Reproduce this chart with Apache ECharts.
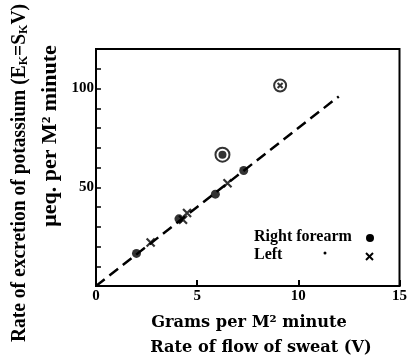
<!DOCTYPE html>
<html><head><meta charset="utf-8">
<script src="https://cdn.jsdelivr.net/npm/echarts@6/dist/echarts.min.js"></script>
<style>html,body{margin:0;padding:0;background:#fff}#c{width:410px;height:360px}</style>
</head><body><div id="c"></div>
<script>
// Data
const rightX = [2.0, 4.1, 5.9, 7.3];
const rightY = [16.5, 34, 46.5, 58.5];
const leftX = [2.7, 4.3, 4.5, 6.5];
const leftY = [22, 33.5, 37, 52];
const rightOutlierX = [6.25];
const rightOutlierY = [66.5];
const leftOutlierX = [9.1];
const leftOutlierY = [101.5];
const fitX = [0, 12];
const fitY = [0, 96];
const xTicks = [0, 5, 10, 15];
const yTickLabels = [50, 100];

const FONT = '"Liberation Serif", "DejaVu Serif", serif';
const WIDE = '"DejaVu Serif", serif';
const crossPath = 'path://M0,0L10,10M10,0L0,10';
const zip = (a, b) => a.map((v, i) => [v, b[i]]);

const chart = echarts.init(document.getElementById('c'));
chart.setOption({
  animation: false,
  backgroundColor: '#fff',
  grid: {left: 96, right: 7, top: 49, bottom: 74, show: true, borderColor: '#000', borderWidth: 2, backgroundColor: 'transparent'},
  xAxis: {
    type: 'value', min: 0, max: 15, interval: 5,
    axisLine: {show: true, lineStyle: {color: '#000', width: 2}},
    axisTick: {show: true, inside: true, length: 6, lineStyle: {color: '#000', width: 2}},
    splitLine: {show: false},
    axisLabel: {color: '#000', fontFamily: FONT, fontWeight: 'bold', fontSize: 15, margin: 3,
      formatter: v => xTicks.includes(v) ? String(v) : ''}
  },
  yAxis: {
    type: 'value', min: 0, max: 120, interval: 10,
    axisLine: {show: true, lineStyle: {color: '#000', width: 2}},
    axisTick: {show: true, inside: true, length: 5, lineStyle: {color: '#000', width: 1.5}},
    splitLine: {show: false},
    axisLabel: {color: '#000', fontFamily: FONT, fontWeight: 'bold', fontSize: 15, margin: 2,
      formatter: v => yTickLabels.includes(v) ? String(v) : ''}
  },
  series: [
    {type: 'line', data: zip(fitX, fitY), symbol: 'none', silent: true,
      lineStyle: {color: '#000', width: 2.5, type: [11, 6]}},
    {type: 'scatter', data: zip(rightX, rightY), symbol: 'circle', symbolSize: 9,
      itemStyle: {color: '#000'}},
    {type: 'scatter', data: zip(leftX, leftY), symbol: crossPath, symbolSize: 8,
      itemStyle: {color: 'none', borderColor: '#000', borderWidth: 2.2}},
    {type: 'scatter', data: zip(rightOutlierX, rightOutlierY), symbol: 'circle', symbolSize: 14,
      itemStyle: {color: '#fff', borderColor: '#000', borderWidth: 2}},
    {type: 'scatter', data: zip(rightOutlierX, rightOutlierY), symbol: 'circle', symbolSize: 8,
      itemStyle: {color: '#000'}},
    {type: 'scatter', data: zip(leftOutlierX, leftOutlierY), symbol: 'circle', symbolSize: 12,
      itemStyle: {color: '#fff', borderColor: '#000', borderWidth: 2}},
    {type: 'scatter', data: zip(leftOutlierX, leftOutlierY), symbol: crossPath, symbolSize: 5,
      itemStyle: {color: 'none', borderColor: '#000', borderWidth: 2}}
  ],
  graphic: [
    {type: 'text', x: 20, y: 173, rotation: Math.PI / 2, scaleX: 0.93, style: {
      text: 'Rate of excretion of potassium (E{s|K}=S{s|K}V)',
      fill: '#000', font: 'bold 21px ' + FONT, align: 'center', verticalAlign: 'middle',
      rich: {s: {fontSize: 13, fontWeight: 'bold', fontFamily: FONT, verticalAlign: 'bottom', padding: [7, 0, 0, 0]}}
    }},
    {type: 'text', x: 50, y: 136, rotation: Math.PI / 2, style: {
      text: 'μeq. per M² minute', fill: '#000', font: 'bold 22px ' + FONT,
      align: 'center', verticalAlign: 'middle'
    }},
    {type: 'text', x: 249, y: 323, style: {
      text: 'Grams per M² minute', fill: '#000', font: 'bold 16.2px ' + WIDE,
      align: 'center', verticalAlign: 'middle'
    }},
    {type: 'text', x: 261, y: 348, style: {
      text: 'Rate of flow of sweat (V)', fill: '#000', font: 'bold 16.2px ' + WIDE,
      align: 'center', verticalAlign: 'middle'
    }},
    {type: 'text', x: 254, y: 237, style: {
      text: 'Right forearm', fill: '#000', font: 'bold 16px ' + FONT, align: 'left', verticalAlign: 'middle'
    }},
    {type: 'text', x: 254, y: 255, style: {
      text: 'Left', fill: '#000', font: 'bold 16px ' + FONT, align: 'left', verticalAlign: 'middle'
    }},
    {type: 'circle', shape: {cx: 370, cy: 238, r: 4}, style: {fill: '#000'}},
    {type: 'circle', shape: {cx: 325, cy: 253, r: 1.5}, style: {fill: '#000'}},
    {type: 'polyline', shape: {points: [[366, 253], [373, 260]]}, style: {stroke: '#000', lineWidth: 2}},
    {type: 'polyline', shape: {points: [[373, 253], [366, 260]]}, style: {stroke: '#000', lineWidth: 2}}
  ]
});
</script></body></html>
